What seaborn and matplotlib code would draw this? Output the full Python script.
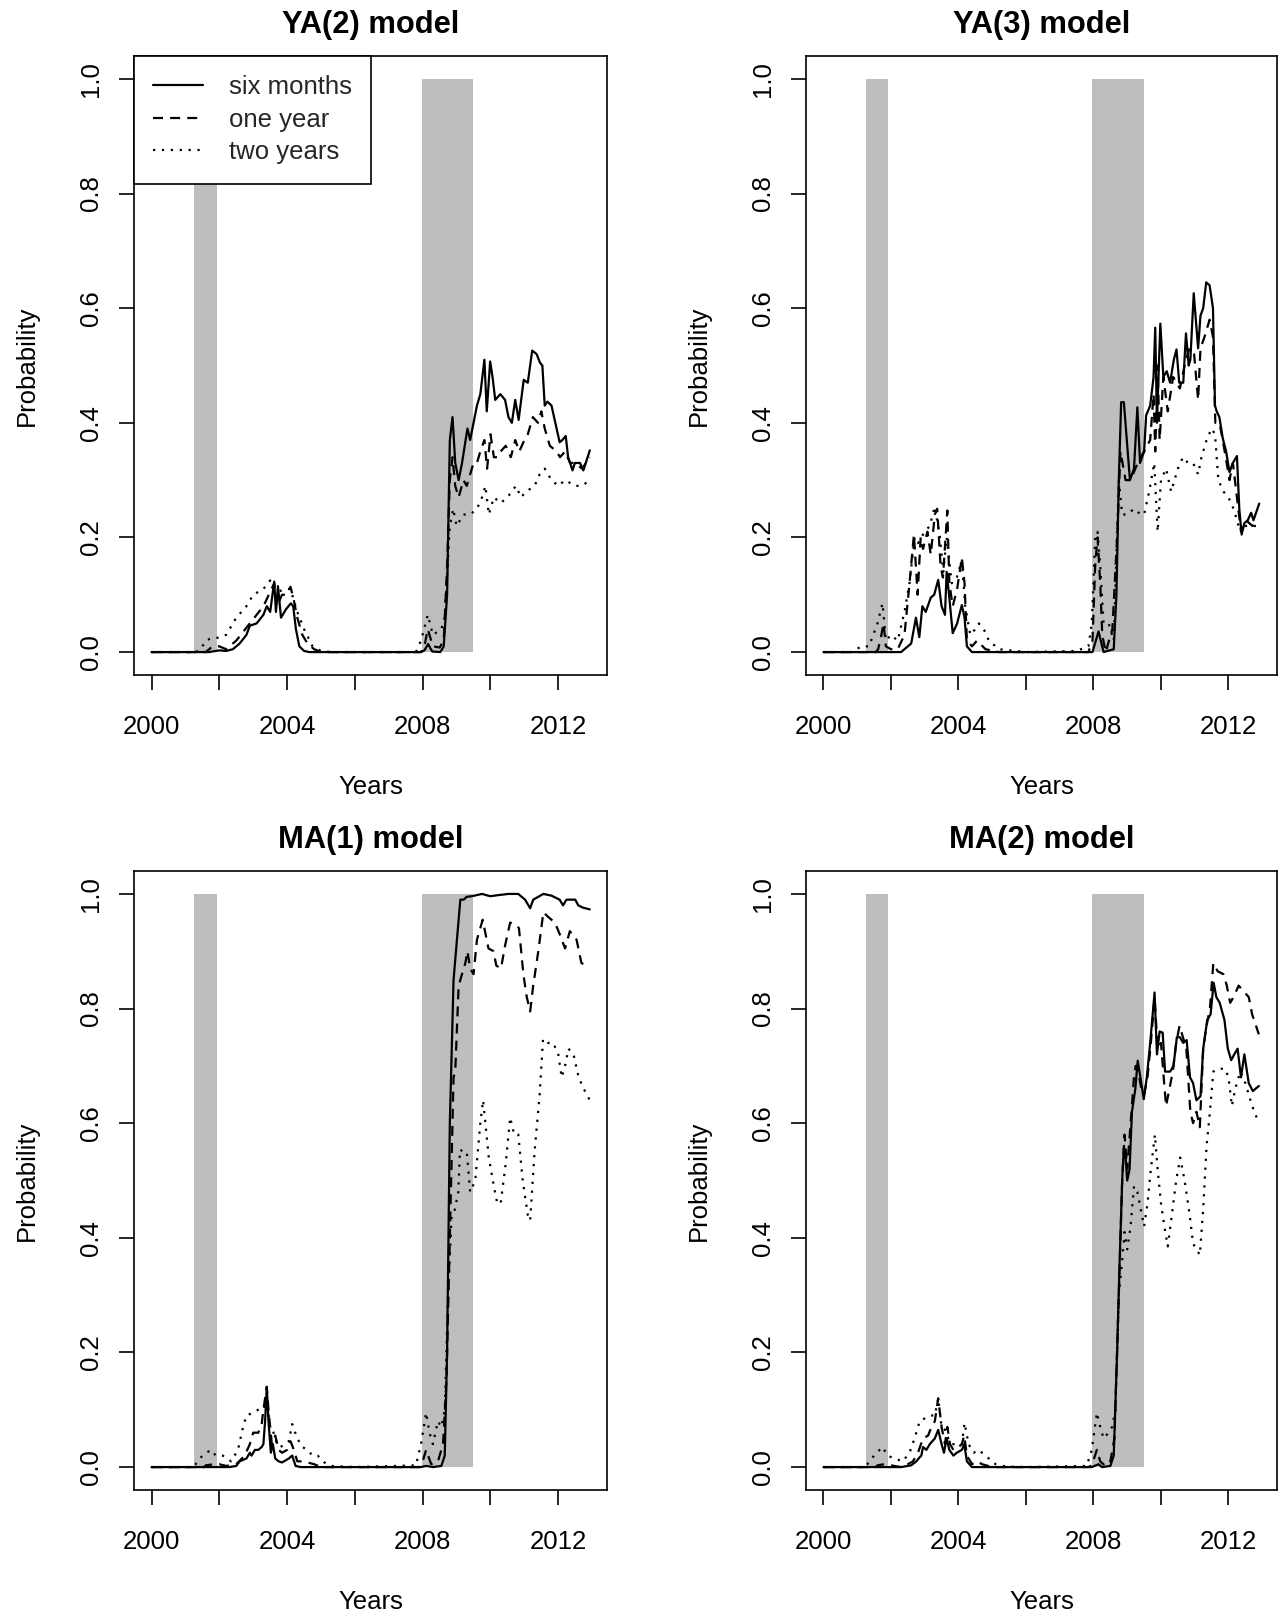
import numpy as np
import matplotlib
matplotlib.use("Agg")
import matplotlib.pyplot as plt
import seaborn as sns

# ---------------- data (year, probability) ----------------
titles = ["YA(2) model", "YA(3) model", "MA(1) model", "MA(2) model"]
horizons = ["six months", "one year", "two years"]
recession_start = [2001.25, 2007.97]
recession_end = [2001.92, 2009.49]
year_ticks = [2000, 2002, 2004, 2006, 2008, 2010, 2012]
year_labels = ["2000", "", "2004", "", "2008", "", "2012"]
prob_ticks = [0.0, 0.2, 0.4, 0.6, 0.8, 1.0]
prob_labels = ["0.0", "0.2", "0.4", "0.6", "0.8", "1.0"]

ya2_six = [(2000,0),(2001.7,0),(2002.0,0.003),(2002.2,0.002),(2002.4,0.005),(2002.6,0.015),(2002.8,0.03),(2002.9,0.046),(2003.1,0.05),(2003.3,0.065),(2003.4,0.08),(2003.5,0.07),(2003.62,0.123),(2003.67,0.07),(2003.73,0.115),(2003.82,0.06),(2003.97,0.075),(2004.11,0.085),(2004.18,0.08),(2004.26,0.04),(2004.36,0.01),(2004.5,0.002),(2004.65,0),(2007.95,0),(2008.05,0.003),(2008.16,0.014),(2008.28,0.001),(2008.52,0),(2008.62,0.01),(2008.72,0.1),(2008.8,0.37),(2008.88,0.41),(2008.96,0.33),(2009.06,0.30),(2009.16,0.33),(2009.32,0.39),(2009.4,0.37),(2009.5,0.40),(2009.6,0.43),(2009.7,0.45),(2009.82,0.51),(2009.89,0.42),(2009.99,0.507),(2010.06,0.48),(2010.14,0.44),(2010.29,0.45),(2010.43,0.44),(2010.53,0.41),(2010.63,0.40),(2010.73,0.44),(2010.83,0.405),(2010.98,0.475),(2011.1,0.47),(2011.23,0.526),(2011.36,0.52),(2011.46,0.505),(2011.53,0.50),(2011.6,0.43),(2011.68,0.437),(2011.8,0.43),(2011.95,0.39),(2012.04,0.366),(2012.12,0.37),(2012.22,0.377),(2012.29,0.34),(2012.42,0.317),(2012.49,0.33),(2012.64,0.33),(2012.74,0.317),(2012.93,0.352)]
ya2_one = [(2000,0),(2001.6,0),(2001.7,0.005),(2001.8,0.01),(2002.0,0.01),(2002.2,0.005),(2002.5,0.02),(2002.7,0.035),(2002.9,0.05),(2003.1,0.065),(2003.3,0.08),(2003.5,0.105),(2003.62,0.12),(2003.7,0.08),(2003.85,0.10),(2003.97,0.1),(2004.1,0.114),(2004.2,0.09),(2004.3,0.06),(2004.45,0.03),(2004.6,0.015),(2004.8,0.005),(2005.0,0),(2007.95,0),(2008.05,0.01),(2008.15,0.04),(2008.3,0.01),(2008.5,0.008),(2008.62,0.02),(2008.72,0.15),(2008.8,0.3),(2008.88,0.34),(2008.96,0.29),(2009.06,0.27),(2009.2,0.30),(2009.3,0.29),(2009.4,0.31),(2009.5,0.33),(2009.6,0.33),(2009.7,0.35),(2009.82,0.37),(2009.9,0.32),(2010.0,0.38),(2010.1,0.34),(2010.2,0.34),(2010.3,0.35),(2010.45,0.36),(2010.6,0.34),(2010.73,0.37),(2010.85,0.35),(2011.0,0.37),(2011.1,0.38),(2011.25,0.41),(2011.4,0.40),(2011.5,0.42),(2011.6,0.39),(2011.75,0.36),(2011.95,0.35),(2012.05,0.34),(2012.2,0.35),(2012.35,0.33),(2012.5,0.33),(2012.7,0.32),(2012.93,0.34)]
ya2_two = [(2000,0),(2001.3,0),(2001.45,0.005),(2001.6,0.02),(2001.8,0.025),(2002.0,0.025),(2002.2,0.03),(2002.5,0.06),(2002.8,0.08),(2003.0,0.1),(2003.3,0.11),(2003.5,0.125),(2003.6,0.11),(2003.75,0.105),(2003.9,0.11),(2004.1,0.11),(2004.3,0.07),(2004.5,0.04),(2004.75,0.01),(2005.0,0.002),(2005.3,0),(2007.8,0),(2007.95,0.02),(2008.15,0.065),(2008.3,0.03),(2008.55,0.04),(2008.65,0.06),(2008.8,0.22),(2008.9,0.25),(2009.0,0.22),(2009.2,0.24),(2009.4,0.24),(2009.6,0.25),(2009.75,0.27),(2009.85,0.29),(2009.95,0.24),(2010.1,0.27),(2010.3,0.26),(2010.5,0.27),(2010.75,0.29),(2010.9,0.27),(2011.05,0.28),(2011.3,0.29),(2011.45,0.31),(2011.6,0.32),(2011.8,0.30),(2012.0,0.29),(2012.2,0.3),(2012.5,0.29),(2012.7,0.29),(2012.93,0.30)]

ya3_six = [(2000,0),(2002.3,0),(2002.5,0.01),(2002.6,0.015),(2002.74,0.06),(2002.84,0.026),(2002.93,0.08),(2003.03,0.07),(2003.18,0.095),(2003.28,0.10),(2003.4,0.126),(2003.5,0.08),(2003.6,0.065),(2003.65,0.14),(2003.72,0.10),(2003.83,0.033),(2003.96,0.05),(2004.1,0.082),(2004.18,0.06),(2004.25,0.01),(2004.4,0),(2007.97,0),(2008.15,0.036),(2008.3,0),(2008.6,0.005),(2008.68,0.1),(2008.75,0.3),(2008.82,0.436),(2008.9,0.436),(2009.08,0.30),(2009.2,0.32),(2009.3,0.427),(2009.38,0.33),(2009.5,0.35),(2009.56,0.413),(2009.68,0.43),(2009.78,0.48),(2009.83,0.566),(2009.88,0.40),(2009.98,0.573),(2010.07,0.48),(2010.17,0.49),(2010.27,0.47),(2010.38,0.51),(2010.46,0.528),(2010.54,0.47),(2010.66,0.47),(2010.74,0.556),(2010.82,0.50),(2010.87,0.51),(2010.97,0.626),(2011.1,0.53),(2011.17,0.587),(2011.25,0.60),(2011.34,0.645),(2011.44,0.64),(2011.54,0.60),(2011.6,0.43),(2011.65,0.42),(2011.73,0.41),(2011.83,0.373),(2011.93,0.35),(2012.03,0.314),(2012.13,0.33),(2012.25,0.342),(2012.32,0.25),(2012.39,0.205),(2012.47,0.225),(2012.57,0.23),(2012.67,0.243),(2012.74,0.23),(2012.91,0.259)]
ya3_one = [(2000,0),(2001.55,0),(2001.62,0.005),(2001.7,0.025),(2001.78,0.05),(2001.85,0.01),(2002.0,0.005),(2002.2,0.005),(2002.4,0.03),(2002.55,0.12),(2002.68,0.205),(2002.79,0.1),(2002.88,0.2),(2002.95,0.18),(2003.08,0.21),(2003.18,0.17),(2003.3,0.24),(2003.37,0.25),(2003.47,0.15),(2003.54,0.13),(2003.67,0.247),(2003.73,0.12),(2003.83,0.08),(2003.96,0.11),(2004.1,0.165),(2004.18,0.12),(2004.25,0.02),(2004.4,0.01),(2004.55,0.02),(2004.8,0.005),(2005.2,0),(2007.85,0),(2007.97,0.02),(2008.05,0.15),(2008.12,0.2),(2008.2,0.12),(2008.26,0.03),(2008.36,0),(2008.56,0.04),(2008.7,0.2),(2008.8,0.35),(2008.95,0.3),(2009.1,0.30),(2009.24,0.32),(2009.4,0.34),(2009.5,0.35),(2009.68,0.37),(2009.78,0.45),(2009.83,0.35),(2009.9,0.50),(2009.96,0.37),(2010.07,0.48),(2010.2,0.42),(2010.36,0.48),(2010.56,0.46),(2010.7,0.50),(2010.84,0.53),(2010.98,0.52),(2011.1,0.44),(2011.17,0.53),(2011.29,0.55),(2011.44,0.58),(2011.54,0.55),(2011.61,0.40),(2011.73,0.40),(2011.83,0.37),(2012.03,0.30),(2012.13,0.33),(2012.23,0.28),(2012.37,0.21),(2012.52,0.23),(2012.71,0.22),(2012.9,0.23)]
ya3_two = [(2000,0),(2000.9,0),(2001.1,0.01),(2001.35,0.01),(2001.6,0.05),(2001.75,0.085),(2001.85,0.02),(2002.0,0.03),(2002.2,0.02),(2002.4,0.07),(2002.55,0.12),(2002.7,0.2),(2002.8,0.19),(2002.9,0.2),(2003.0,0.21),(2003.15,0.22),(2003.3,0.254),(2003.45,0.2),(2003.55,0.14),(2003.65,0.2),(2003.8,0.12),(2003.95,0.13),(2004.1,0.16),(2004.2,0.08),(2004.35,0.03),(2004.5,0.04),(2004.6,0.05),(2004.75,0.04),(2004.9,0.02),(2005.2,0.005),(2006.0,0),(2007.5,0.002),(2007.85,0.01),(2007.95,0.05),(2008.05,0.2),(2008.12,0.21),(2008.2,0.15),(2008.3,0.05),(2008.45,0.05),(2008.6,0.02),(2008.75,0.3),(2008.85,0.24),(2009.0,0.24),(2009.2,0.25),(2009.4,0.24),(2009.5,0.24),(2009.65,0.28),(2009.8,0.33),(2009.9,0.21),(2010.0,0.3),(2010.15,0.32),(2010.3,0.28),(2010.5,0.32),(2010.65,0.34),(2010.8,0.33),(2010.95,0.33),(2011.1,0.31),(2011.2,0.34),(2011.35,0.37),(2011.5,0.39),(2011.6,0.38),(2011.7,0.30),(2011.85,0.28),(2012.0,0.27),(2012.15,0.25),(2012.3,0.22),(2012.5,0.22),(2012.7,0.22),(2012.9,0.22)]

ma1_six = [(2000,0),(2002.3,0),(2002.5,0.002),(2002.6,0.01),(2002.8,0.015),(2002.9,0.025),(2002.95,0.02),(2003.05,0.03),(2003.15,0.03),(2003.25,0.035),(2003.3,0.04),(2003.35,0.08),(2003.4,0.14),(2003.45,0.08),(2003.52,0.025),(2003.58,0.04),(2003.65,0.015),(2003.75,0.01),(2003.85,0.008),(2004.05,0.015),(2004.15,0.02),(2004.25,0.002),(2004.4,0),(2007.95,0),(2008.1,0.002),(2008.3,0),(2008.55,0.002),(2008.65,0.02),(2008.72,0.2),(2008.8,0.6),(2008.91,0.85),(2009.01,0.92),(2009.11,0.99),(2009.21,0.99),(2009.3,0.995),(2009.45,0.996),(2009.75,1.0),(2009.99,0.996),(2010.24,0.998),(2010.53,1.0),(2010.82,1.0),(2011.02,0.99),(2011.17,0.975),(2011.26,0.99),(2011.56,1.0),(2011.8,0.997),(2012.04,0.99),(2012.14,0.98),(2012.24,0.99),(2012.4,0.99),(2012.5,0.99),(2012.59,0.98),(2012.73,0.976),(2012.93,0.973)]
ma1_one = [(2000,0),(2001.55,0),(2001.6,0.003),(2001.85,0.005),(2002.0,0.005),(2002.2,0.002),(2002.5,0.005),(2002.75,0.02),(2002.9,0.04),(2003.0,0.06),(2003.15,0.06),(2003.25,0.075),(2003.3,0.1),(2003.4,0.14),(2003.45,0.1),(2003.55,0.04),(2003.65,0.055),(2003.75,0.03),(2003.85,0.025),(2004.0,0.03),(2004.1,0.045),(2004.2,0.03),(2004.3,0.01),(2004.45,0.01),(2004.6,0.008),(2004.8,0.005),(2005.0,0),(2007.9,0),(2008.0,0.01),(2008.1,0.03),(2008.25,0.005),(2008.45,0.01),(2008.6,0.04),(2008.7,0.15),(2008.8,0.4),(2008.91,0.68),(2008.96,0.69),(2009.06,0.84),(2009.16,0.86),(2009.26,0.88),(2009.32,0.9),(2009.4,0.87),(2009.5,0.86),(2009.6,0.92),(2009.77,0.955),(2009.94,0.905),(2010.09,0.9),(2010.17,0.875),(2010.31,0.87),(2010.43,0.91),(2010.58,0.95),(2010.78,0.945),(2010.84,0.94),(2010.97,0.86),(2011.07,0.82),(2011.17,0.795),(2011.26,0.84),(2011.41,0.9),(2011.56,0.968),(2011.7,0.96),(2011.9,0.95),(2012.04,0.93),(2012.2,0.905),(2012.34,0.935),(2012.54,0.92),(2012.68,0.88),(2012.88,0.87)]
ma1_two = [(2000,0),(2001.2,0),(2001.3,0.005),(2001.5,0.02),(2001.75,0.03),(2001.9,0.02),(2002.1,0.02),(2002.35,0.01),(2002.55,0.03),(2002.7,0.07),(2002.8,0.09),(2003.0,0.095),(2003.15,0.1),(2003.3,0.1),(2003.4,0.12),(2003.5,0.07),(2003.6,0.06),(2003.7,0.04),(2003.8,0.035),(2003.95,0.04),(2004.05,0.045),(2004.15,0.075),(2004.3,0.05),(2004.45,0.035),(2004.6,0.03),(2004.75,0.02),(2004.9,0.02),(2005.1,0.008),(2005.3,0.002),(2006.0,0),(2007.8,0.003),(2007.95,0.04),(2008.1,0.095),(2008.2,0.06),(2008.3,0.04),(2008.45,0.08),(2008.55,0.07),(2008.65,0.1),(2008.75,0.3),(2008.85,0.435),(2008.95,0.45),(2009.05,0.48),(2009.1,0.554),(2009.2,0.55),(2009.3,0.55),(2009.4,0.48),(2009.55,0.5),(2009.7,0.6),(2009.78,0.64),(2009.85,0.6),(2009.95,0.54),(2010.1,0.49),(2010.2,0.46),(2010.3,0.46),(2010.45,0.53),(2010.58,0.61),(2010.7,0.58),(2010.82,0.58),(2010.95,0.5),(2011.1,0.44),(2011.17,0.43),(2011.3,0.55),(2011.45,0.65),(2011.55,0.747),(2011.7,0.74),(2011.85,0.74),(2012.0,0.72),(2012.1,0.68),(2012.2,0.7),(2012.3,0.73),(2012.45,0.72),(2012.6,0.68),(2012.75,0.66),(2012.93,0.64)]

ma2_six = [(2000,0),(2002.3,0),(2002.6,0.003),(2002.75,0.01),(2002.85,0.017),(2002.9,0.02),(2002.95,0.035),(2003.05,0.03),(2003.15,0.04),(2003.3,0.05),(2003.4,0.065),(2003.5,0.04),(2003.57,0.025),(2003.65,0.05),(2003.73,0.03),(2003.85,0.02),(2003.95,0.025),(2004.1,0.03),(2004.17,0.04),(2004.25,0.01),(2004.4,0),(2007.95,0),(2008.15,0.005),(2008.25,0),(2008.5,0.002),(2008.6,0.02),(2008.7,0.2),(2008.77,0.35),(2008.85,0.5),(2008.9,0.558),(2008.95,0.54),(2009.0,0.50),(2009.07,0.52),(2009.14,0.62),(2009.24,0.66),(2009.31,0.709),(2009.39,0.68),(2009.49,0.642),(2009.58,0.68),(2009.68,0.74),(2009.81,0.828),(2009.88,0.72),(2009.96,0.76),(2010.05,0.758),(2010.12,0.69),(2010.27,0.69),(2010.37,0.70),(2010.47,0.75),(2010.56,0.75),(2010.66,0.74),(2010.76,0.745),(2010.86,0.68),(2010.95,0.67),(2011.05,0.64),(2011.17,0.647),(2011.25,0.73),(2011.37,0.78),(2011.47,0.79),(2011.56,0.845),(2011.64,0.82),(2011.74,0.81),(2011.88,0.78),(2011.98,0.73),(2012.08,0.71),(2012.17,0.72),(2012.27,0.73),(2012.37,0.68),(2012.47,0.72),(2012.6,0.67),(2012.72,0.656),(2012.9,0.665)]
ma2_one = [(2000,0),(2001.55,0),(2001.6,0.003),(2001.8,0.005),(2002.0,0.003),(2002.3,0),(2002.5,0.005),(2002.65,0.01),(2002.8,0.025),(2002.95,0.05),(2003.1,0.055),(2003.2,0.07),(2003.3,0.08),(2003.4,0.12),(2003.5,0.07),(2003.6,0.04),(2003.67,0.07),(2003.75,0.04),(2003.85,0.03),(2004.0,0.035),(2004.1,0.04),(2004.17,0.055),(2004.25,0.02),(2004.4,0.005),(2004.55,0.01),(2004.7,0.005),(2005.0,0),(2007.85,0),(2007.95,0.003),(2008.1,0.03),(2008.2,0.01),(2008.35,0.002),(2008.5,0.01),(2008.62,0.05),(2008.75,0.3),(2008.85,0.5),(2008.92,0.58),(2009.0,0.52),(2009.1,0.6),(2009.2,0.68),(2009.25,0.7),(2009.32,0.69),(2009.42,0.66),(2009.5,0.65),(2009.6,0.68),(2009.7,0.74),(2009.81,0.82),(2009.9,0.73),(2010.0,0.74),(2010.08,0.68),(2010.15,0.63),(2010.25,0.66),(2010.35,0.69),(2010.45,0.74),(2010.55,0.77),(2010.65,0.75),(2010.75,0.73),(2010.87,0.62),(2010.95,0.6),(2011.05,0.62),(2011.15,0.593),(2011.25,0.73),(2011.35,0.77),(2011.45,0.8),(2011.55,0.879),(2011.68,0.865),(2011.85,0.86),(2011.95,0.84),(2012.05,0.81),(2012.15,0.82),(2012.3,0.84),(2012.45,0.83),(2012.6,0.82),(2012.7,0.79),(2012.9,0.755)]
ma2_two = [(2000,0),(2001.2,0),(2001.3,0.005),(2001.5,0.02),(2001.75,0.035),(2001.9,0.02),(2002.1,0.015),(2002.35,0.01),(2002.55,0.025),(2002.7,0.05),(2002.85,0.08),(2003.0,0.085),(2003.15,0.09),(2003.3,0.09),(2003.4,0.12),(2003.5,0.07),(2003.6,0.065),(2003.7,0.05),(2003.8,0.04),(2003.95,0.04),(2004.1,0.04),(2004.18,0.077),(2004.3,0.04),(2004.45,0.025),(2004.6,0.03),(2004.7,0.025),(2004.9,0.015),(2005.1,0.005),(2005.4,0.001),(2006.0,0),(2007.8,0.002),(2007.95,0.03),(2008.1,0.095),(2008.2,0.07),(2008.3,0.05),(2008.45,0.06),(2008.55,0.07),(2008.65,0.1),(2008.75,0.3),(2008.85,0.36),(2008.92,0.41),(2009.0,0.38),(2009.1,0.42),(2009.2,0.49),(2009.3,0.48),(2009.4,0.45),(2009.5,0.42),(2009.6,0.46),(2009.7,0.52),(2009.82,0.58),(2009.9,0.52),(2010.0,0.46),(2010.1,0.42),(2010.2,0.385),(2010.3,0.43),(2010.45,0.5),(2010.57,0.54),(2010.7,0.5),(2010.85,0.44),(2010.95,0.39),(2011.05,0.38),(2011.15,0.37),(2011.25,0.45),(2011.35,0.56),(2011.45,0.62),(2011.55,0.69),(2011.7,0.695),(2011.9,0.695),(2012.0,0.68),(2012.1,0.63),(2012.2,0.66),(2012.35,0.69),(2012.5,0.67),(2012.7,0.63),(2012.9,0.6)]

panels = [
    (ya2_six, ya2_one, ya2_two),
    (ya3_six, ya3_one, ya3_two),
    (ma1_six, ma1_one, ma1_two),
    (ma2_six, ma2_one, ma2_two),
]

# ---------------- styling ----------------
sns.set_theme(style="white")
plt.rcParams["font.family"] = ["Liberation Sans", "DejaVu Sans"]
plt.rcParams["axes.edgecolor"] = "black"
plt.rcParams["axes.linewidth"] = 1.2

W, H = 1283, 1617
fig = plt.figure(figsize=(W / 100, H / 100), dpi=100)

col_left = [134, 806]
col_width = [473, 471]
row_top = [56, 871]
row_h = 619

FS = 18.5
styles = ["-", (0, (4.5, 3.2)), (0, (1, 3))]
LW = 1.6

for i, (title, series) in enumerate(zip(titles, panels)):
    r, c = divmod(i, 2)
    ax = fig.add_axes([col_left[c] / W, 1 - (row_top[r] + row_h) / H,
                       col_width[c] / W, row_h / H])
    # recession shading
    for s, e in zip(recession_start, recession_end):
        ax.fill_between([s, e], [0, 0], [1, 1], color="#BEBEBE", lw=0, zorder=1)
    for data, ls in zip(series, styles):
        xs = np.array([p[0] for p in data])
        ys = np.array([p[1] for p in data])
        sns.lineplot(x=xs, y=ys, ax=ax, color="black", lw=LW, linestyle=ls,
                     estimator=None, errorbar=None, zorder=3)
    ax.set_xlim(1999.483, 2013.437)
    ax.set_ylim(-0.04, 1.04)
    ax.set_xticks(year_ticks)
    ax.set_xticklabels(year_labels, fontsize=FS)
    ax.set_yticks(prob_ticks)
    ax.set_yticklabels(prob_labels, fontsize=FS, rotation=90, va="center")
    ax.tick_params(axis="both", direction="out", length=10.8, width=1.2,
                   color="black", labelcolor="black",
                   bottom=True, left=True, top=False, right=False)
    ax.tick_params(axis="x", pad=18.0)
    ax.tick_params(axis="y", pad=11.2)
    for sp in ax.spines.values():
        sp.set_visible(True)
        sp.set_color("black")
        sp.set_linewidth(1.2)
    ax.set_title(title, fontsize=22.2, fontweight="bold", pad=16.3, color="black")
    ax.set_xlabel("Years", fontsize=FS, color="black")
    ax.set_ylabel("Probability", fontsize=FS, color="black")
    ax.xaxis.set_label_coords(0.5, -0.1616)
    ax.yaxis.set_label_coords(-95.4 / col_width[c], 0.5)
    if i == 0:
        leg = ax.legend(handles=ax.lines[:3], labels=horizons, loc="upper left",
                        bbox_to_anchor=(0, 1), borderaxespad=0, fontsize=FS,
                        frameon=True, fancybox=False, shadow=False,
                        handlelength=1.95, handletextpad=1.0,
                        borderpad=0.75, labelspacing=0.335)
        fr = leg.get_frame()
        fr.set_edgecolor("black")
        fr.set_linewidth(1.2)
        fr.set_facecolor("white")
        fr.set_alpha(1)
        leg.set_zorder(5)
    elif ax.get_legend() is not None:
        ax.get_legend().remove()

fig.savefig("out.png", dpi=100, facecolor="white")
